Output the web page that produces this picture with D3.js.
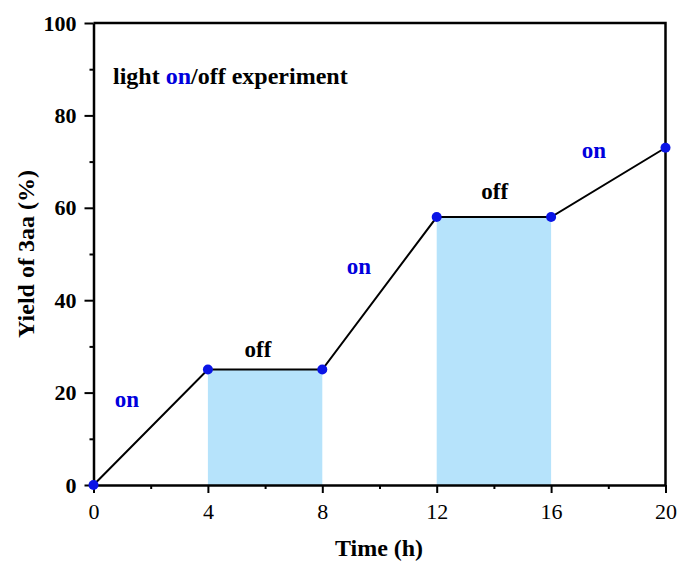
<!DOCTYPE html>
<html>
<head>
<meta charset="utf-8">
<script src="https://cdn.jsdelivr.net/npm/d3@7"></script>
<style>
  html, body { margin: 0; padding: 0; background: #fff; }
  svg { display: block; }
  text { font-family: "Liberation Serif", "Times New Roman", serif; }
</style>
</head>
<body>
<svg id="chart" width="679" height="562"></svg>
<script>
// Reaction yield over time with the light switched on and off
const times = [0, 4, 8, 12, 16, 20];
const yields = [0, 25, 25, 58, 58, 73];
// Dark ("off") intervals: start hour, end hour, yield held during the interval
const offStart = [4, 12];
const offEnd = [8, 16];
const offYield = [25, 58];
// Phase labels: text, position in data units
const phaseText = ["on", "off", "on", "off", "on"];
const phaseX = [1.17, 5.75, 9.28, 14.03, 17.5];
const phaseY = [16.9, 27.7, 45.7, 61.9, 70.8];
const phaseColor = ["#0000dd", "#000", "#0000dd", "#000", "#0000dd"];
const xTicks = [0, 4, 8, 12, 16, 20];
const xMinor = [2, 6, 10, 14, 18];
const yTicks = [0, 20, 40, 60, 80, 100];
const yMinor = [10, 30, 50, 70, 90];

const svg = d3.select("#chart");
const m = { left: 93.5, right: 665.5, top: 23, bottom: 485 };
const x = d3.scaleLinear().domain([0, 20]).range([m.left, m.right]);
const y = d3.scaleLinear().domain([0, 100]).range([m.bottom, m.top]);
const serif = "'Liberation Serif', 'Times New Roman', serif";

// shaded dark intervals
svg.append("g").selectAll("rect")
  .data(offStart.map((s, i) => ({ s, e: offEnd[i], v: offYield[i] })))
  .join("rect")
  .attr("x", d => x(d.s))
  .attr("width", d => x(d.e) - x(d.s))
  .attr("y", d => y(d.v))
  .attr("height", d => y(0) - y(d.v))
  .attr("fill", "#b6e3fb");

// axes
const axisStyle = g => {
  g.attr("font-family", serif);
  g.select(".domain").attr("stroke", "#000").attr("stroke-width", 2.5);
  g.selectAll(".tick line").attr("stroke", "#000").attr("stroke-width", 2);
};
const xAxis = svg.append("g").attr("transform", `translate(0,${m.bottom})`)
  .call(d3.axisBottom(x).tickValues(xTicks).tickSize(8).tickSizeOuter(0))
  .call(axisStyle);
xAxis.selectAll("text").attr("font-size", 22).attr("fill", "#000")
  .attr("y", 34).attr("dy", 0);
svg.append("g").attr("transform", `translate(0,${m.bottom})`)
  .call(d3.axisBottom(x).tickValues(xMinor).tickSize(4).tickFormat(""))
  .call(g => g.select(".domain").remove())
  .selectAll(".tick line").attr("stroke", "#000").attr("stroke-width", 2);

const yAxis = svg.append("g").attr("transform", `translate(${m.left},0)`)
  .call(d3.axisLeft(y).tickValues(yTicks).tickSize(9).tickSizeOuter(0).tickPadding(8))
  .call(axisStyle);
yAxis.selectAll("text").attr("font-size", 22).attr("font-weight", "bold").attr("fill", "#000");
svg.append("g").attr("transform", `translate(${m.left},0)`)
  .call(d3.axisLeft(y).tickValues(yMinor).tickSize(4).tickFormat(""))
  .call(g => g.select(".domain").remove())
  .selectAll(".tick line").attr("stroke", "#000").attr("stroke-width", 2);

// top and right frame
svg.append("path")
  .attr("d", `M${x(0)},${y(100)}H${x(20)}V${y(0)}`)
  .attr("fill", "none").attr("stroke", "#000").attr("stroke-width", 2.5);

// yield line
const pts = times.map((t, i) => [t, yields[i]]);
svg.append("path")
  .datum(pts)
  .attr("d", d3.line().x(d => x(d[0])).y(d => y(d[1])))
  .attr("fill", "none").attr("stroke", "#000").attr("stroke-width", 2);

svg.append("g").selectAll("circle")
  .data(pts)
  .join("circle")
  .attr("cx", d => x(d[0])).attr("cy", d => y(d[1]))
  .attr("r", 5).attr("fill", "#0a14e6");

// phase labels
svg.append("g").selectAll("text")
  .data(phaseText.map((t, i) => ({ t, px: phaseX[i], py: phaseY[i], c: phaseColor[i] })))
  .join("text")
  .attr("x", d => x(d.px)).attr("y", d => y(d.py))
  .attr("text-anchor", "middle")
  .attr("font-size", 23).attr("font-weight", "bold")
  .attr("fill", d => d.c)
  .text(d => d.t);

// heading inside the plot
const head = svg.append("text")
  .attr("x", 113).attr("y", 84)
  .attr("font-size", 24).attr("font-weight", "bold").attr("fill", "#000");
head.append("tspan").text("light ");
head.append("tspan").attr("fill", "#0000dd").text("on");
head.append("tspan").text("/off experiment");

// axis titles
svg.append("text")
  .attr("x", 379).attr("y", 556)
  .attr("text-anchor", "middle")
  .attr("font-size", 24).attr("font-weight", "bold").attr("fill", "#000")
  .text("Time (h)");
svg.append("text")
  .attr("transform", `translate(34,254) rotate(-90)`)
  .attr("text-anchor", "middle")
  .attr("font-size", 24).attr("font-weight", "bold").attr("fill", "#000")
  .text("Yield of 3aa (%)");
</script>
</body>
</html>
